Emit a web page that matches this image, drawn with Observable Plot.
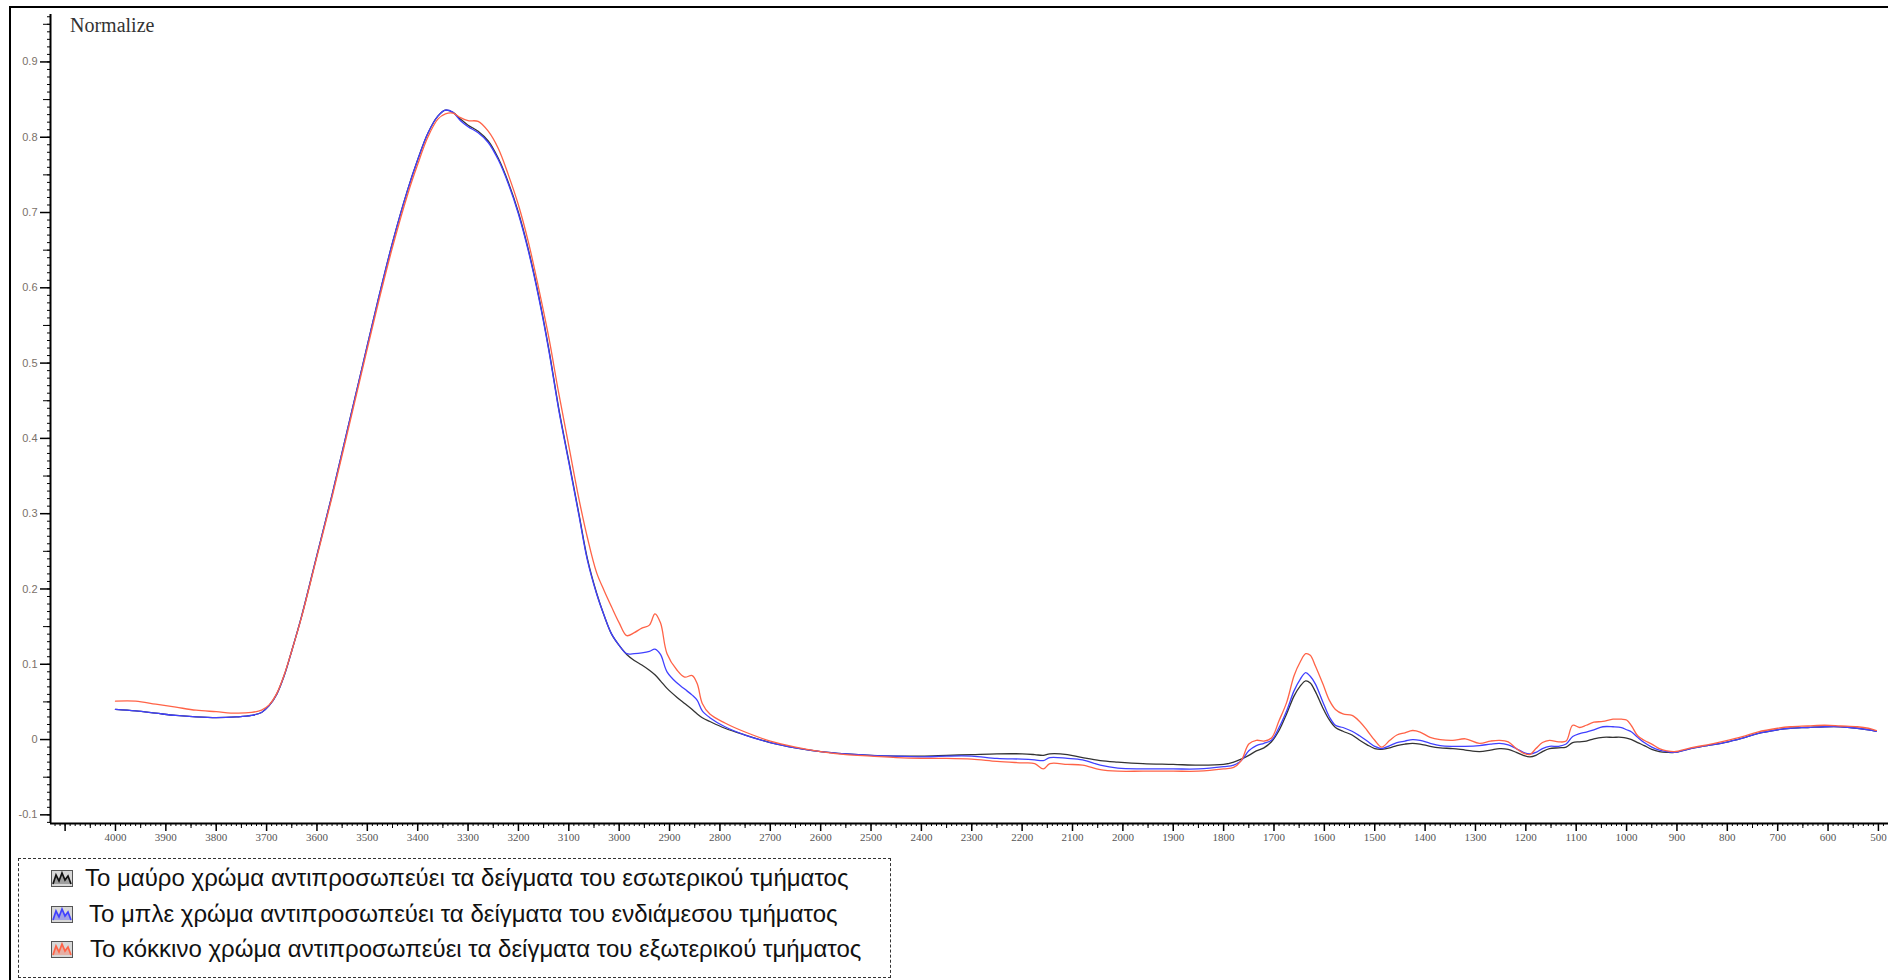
<!DOCTYPE html>
<html><head><meta charset="utf-8">
<script src="https://cdn.jsdelivr.net/npm/d3@7"></script>
<script src="https://cdn.jsdelivr.net/npm/@observablehq/plot@0.6"></script>
<style>
html,body{margin:0;padding:0;background:#fff;}
body{width:1888px;height:980px;position:relative;overflow:hidden;}
#frame{position:absolute;left:9px;top:6px;width:1900px;height:1000px;border-left:2px solid #000;border-top:2px solid #000;box-sizing:border-box;}
#chart{position:absolute;left:0;top:0;}
#title{position:absolute;left:70px;top:16px;font-family:"Liberation Serif",serif;font-size:20px;line-height:19px;color:#333;white-space:nowrap;}
#legend{position:absolute;left:18px;top:858px;width:873px;height:120px;border:1px dashed #333;box-sizing:border-box;font-family:"Liberation Sans",Arial,sans-serif;font-size:24px;color:#111;}
.row{position:absolute;left:0;height:28px;display:flex;align-items:center;white-space:nowrap;}
</style></head><body>
<div id="frame"></div>
<div id="chart"></div>
<div id="title">Normalize</div>
<div id="legend"></div>
<script>
// Wavenumbers (cm-1)
const wn = [4000,3960,3920,3880,3840,3800,3760,3730,3710,3695,3680,3665,3650,3630,3600,3570,3540,3510,3480,3450,3420,3400,3380,3360,3345,3330,3315,3300,3280,3260,3240,3220,3200,3180,3160,3140,3120,3100,3080,3063,3045,3030,3015,3000,2985,2970,2955,2940,2929,2918,2905,2885,2870,2855,2845,2835,2820,2790,2750,2700,2650,2600,2550,2500,2450,2400,2350,2300,2250,2200,2175,2158,2145,2110,2080,2045,2010,1960,1900,1850,1800,1780,1765,1750,1735,1720,1705,1690,1675,1660,1648,1637,1628,1618,1603,1590,1578,1563,1545,1530,1515,1500,1486,1470,1456,1440,1425,1410,1390,1370,1345,1320,1292,1270,1252,1235,1219,1205,1192,1180,1167,1153,1135,1120,1107,1093,1080,1065,1047,1027,1010,1000,990,978,965,950,935,920,905,873,840,806,770,740,700,675,640,607,575,542,520,504];
// Inner part (black)
const blackVals = [.040,.038,.035,.032,.030,.029,.030,.032,.036,.045,.060,.085,.118,.165,.245,.325,.410,.495,.580,.660,.730,.770,.805,.828,.836,.833,.824,.816,.808,.795,.772,.740,.700,.650,.590,.520,.440,.370,.300,.240,.195,.165,.140,.125,.113,.105,.099,.092,.086,.078,.068,.056,.048,.040,.034,.029,.024,.015,.006,-.004,-.011,-.016,-.019,-.021,-.022,-.022,-.021,-.020,-.019,-.019,-.020,-.021,-.019,-.020,-.024,-.028,-.030,-.032,-.033,-.034,-.033,-.030,-.026,-.021,-.015,-.011,-.003,.012,.034,.058,.071,.078,.075,.064,.042,.026,.016,.011,.006,-.001,-.007,-.012,-.013,-.011,-.008,-.006,-.005,-.006,-.009,-.011,-.012,-.014,-.016,-.014,-.012,-.013,-.017,-.021,-.023,-.021,-.016,-.012,-.011,-.010,-.004,-.003,-.002,.001,.003,.003,.003,.002,.000,-.004,-.008,-.013,-.016,-.017,-.017,-.012,-.008,-.004,.002,.008,.013,.015,.016,.017,.017,.015,.013,.011];
// Intermediate part (blue)
const blueVals = [.040,.038,.035,.032,.030,.029,.030,.032,.036,.045,.060,.085,.118,.165,.245,.325,.410,.495,.580,.660,.730,.770,.805,.828,.836,.833,.822,.814,.806,.793,.770,.738,.698,.648,.588,.518,.438,.368,.298,.238,.194,.165,.140,.125,.114,.114,.115,.117,.120,.113,.090,.075,.067,.059,.052,.038,.029,.017,.006,-.004,-.011,-.016,-.019,-.021,-.022,-.023,-.022,-.022,-.025,-.026,-.027,-.028,-.024,-.025,-.027,-.034,-.038,-.039,-.039,-.039,-.036,-.034,-.028,-.015,-.008,-.005,-.001,.016,.038,.065,.080,.089,.084,.074,.050,.030,.019,.016,.011,.005,-.002,-.009,-.012,-.008,-.004,-.002,.000,-.001,-.005,-.008,-.009,-.009,-.008,-.006,-.005,-.007,-.012,-.017,-.019,-.017,-.012,-.009,-.009,-.006,.004,.008,.010,.013,.017,.017,.016,.013,.010,.003,-.004,-.010,-.014,-.016,-.017,-.012,-.008,-.004,.002,.008,.013,.015,.016,.017,.017,.015,.013,.011];
// Outer part (red)
const redVals = [.051,.051,.047,.043,.039,.037,.035,.036,.039,.046,.061,.086,.118,.164,.243,.322,.406,.491,.575,.654,.724,.764,.800,.824,.831,.832,.826,.822,.821,.808,.785,.750,.710,.660,.600,.535,.460,.390,.320,.268,.222,.198,.176,.155,.138,.142,.148,.152,.167,.155,.114,.092,.083,.085,.074,.048,.034,.022,.010,-.002,-.010,-.016,-.020,-.022,-.024,-.025,-.025,-.026,-.029,-.031,-.032,-.039,-.032,-.033,-.034,-.040,-.042,-.042,-.042,-.042,-.039,-.037,-.028,-.006,-.001,-.002,.002,.025,.049,.085,.103,.114,.112,.098,.074,.052,.040,.034,.032,.024,.012,-.001,-.010,-.001,.006,.009,.012,.010,.003,.000,-.001,.001,-.005,-.002,-.001,-.003,-.012,-.018,-.020,-.012,-.004,-.001,-.003,-.002,.019,.016,.019,.023,.024,.027,.027,.026,.018,.005,-.001,-.006,-.012,-.015,-.016,-.011,-.007,-.002,.004,.010,.015,.017,.018,.019,.018,.017,.015,.012];

const seriesNames = ["Το μαύρο χρώμα αντιπροσωπεύει τα δείγματα του εσωτερικού τμήματος","Το μπλε χρώμα αντιπροσωπεύει τα δείγματα του ενδιάμεσου τμήματος","Το κόκκινο χρώμα αντιπροσωπεύει τα δείγματα του εξωτερικού τμήματος"];
const seriesColors = ["#333333","#4040ff","#ff6347"];

const yMajor = d3.range(-1, 10).map(i => i / 10);
const yMid = d3.range(-1, 10).map(i => i / 10 + 0.05);
const yMinor = d3.range(-11, 97).map(i => i / 100);
const xMajor = d3.range(500, 4101, 100);
const xMid = d3.range(550, 4101, 100);
const xMinor = d3.range(480, 4121, 10);

const table = [];
[blackVals, blueVals, redVals].forEach((vals, s) => {
  wn.forEach((w, i) => table.push({w, v: vals[i], s}));
});

const xDom = [4129, 480], yDom = [-0.1115, 0.963];

const chart = Plot.plot({
  width: 1888, height: 850,
  marginLeft: 50, marginTop: 14, marginBottom: 27, marginRight: 0,
  x: {domain: xDom},
  y: {domain: yDom},
  style: {background: "transparent", overflow: "visible"},
  marks: [
    Plot.axisY(yMinor, {tickSize: 3, fill: "none", label: null, stroke: "#000"}),
    Plot.axisY(yMid, {tickSize: 7, fill: "none", label: null, stroke: "#000"}),
    Plot.axisY(yMajor, {tickSize: 10, tickPadding: 3, strokeWidth: 1.5, stroke: "#000", fill: "#7a7068", fontSize: 11, fontFamily: "Liberation Sans, Arial, sans-serif", label: null, tickFormat: d => d === 0 ? "0" : d.toFixed(1)}),
    Plot.axisX(xMinor, {tickSize: 3, fill: "none", label: null, stroke: "#000"}),
    Plot.axisX(xMid, {tickSize: 5, fill: "none", label: null, stroke: "#000"}),
    Plot.axisX(xMajor, {tickSize: 8, tickPadding: 2, strokeWidth: 1.5, stroke: "#000", fill: "#555", fontSize: 11, fontFamily: "Liberation Serif, serif", label: null, tickFormat: d => d > 4000 ? "" : String(d)}),
    Plot.ruleX([xDom[0]], {stroke: "#000", strokeWidth: 2}),
    Plot.ruleY([yDom[0]], {stroke: "#000", strokeWidth: 2}),
    Plot.line(table, {x: "w", y: "v", z: "s", stroke: d => seriesColors[d.s], strokeWidth: 1.3, curve: "catmull-rom"})
  ]
});
document.getElementById("chart").appendChild(chart);

// Legend
const legend = document.getElementById("legend");
const rowTops = [5, 41, 76];
const textLeft = [66, 70, 71];
seriesNames.forEach((name, i) => {
  const row = document.createElement("div");
  row.className = "row";
  row.style.top = rowTops[i] + "px";
  row.style.left = "32px";
  const c = seriesColors[i];
  row.innerHTML = `<svg width="22" height="17" viewBox="0 0 22 17" style="margin-right:${textLeft[i]-22-32}px">
    <rect x="0.5" y="0.5" width="21" height="16" fill="#d8d8d8" stroke="#555"/>
    <polyline points="2,14 5,5 8,11 11,3 14,10 17,6 20,14" fill="${c}" fill-opacity="0.35" stroke="${c === '#333333' ? '#111' : c}" stroke-width="1.7"/>
  </svg><span>${name}</span>`;
  legend.appendChild(row);
});
</script>
</body></html>
